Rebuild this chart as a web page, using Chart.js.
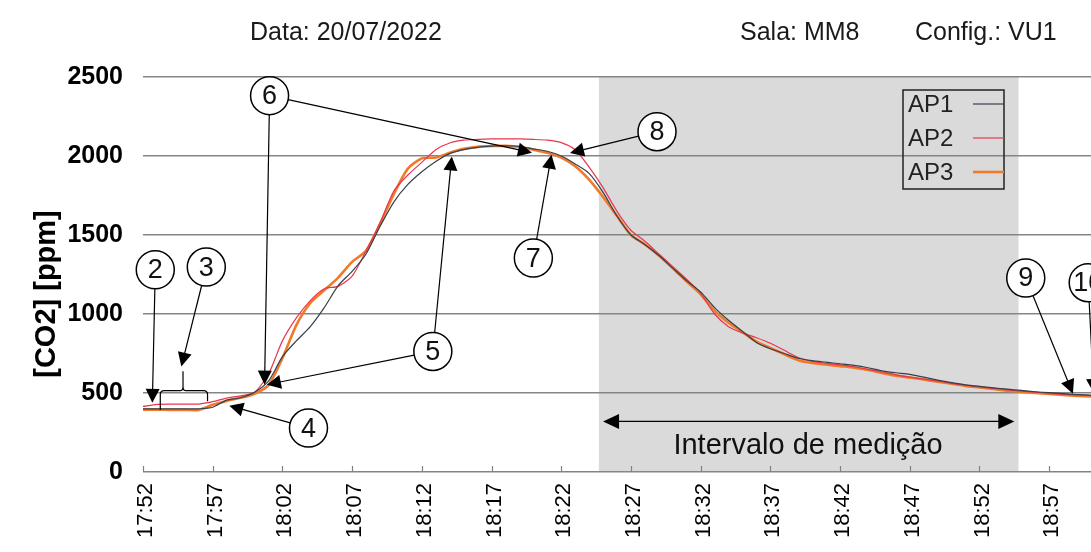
<!DOCTYPE html>
<html><head><meta charset="utf-8">
<script src="https://cdn.jsdelivr.net/npm/chart.js@4.4.0/dist/chart.umd.min.js"></script>
<style>html,body{margin:0;padding:0;background:#fff;overflow:hidden}</style>
</head><body>
<canvas id="c" width="1091" height="552"></canvas>
<script>
const times = ['17:52','17:53','17:54','17:55','17:56','17:57','17:58','17:59',
'18:00','18:01','18:02','18:03','18:04','18:05','18:06','18:07','18:08','18:09',
'18:10','18:11','18:12','18:13','18:14','18:15','18:16','18:17','18:18','18:19',
'18:20','18:21','18:22','18:23','18:24','18:25','18:26','18:27','18:28','18:29',
'18:30','18:31','18:32','18:33','18:34','18:35','18:36','18:37','18:38','18:39',
'18:40','18:41','18:42','18:43','18:44','18:45','18:46','18:47','18:48','18:49',
'18:50','18:51','18:52','18:53','18:54','18:55','18:56','18:57','18:58','18:59','19:00'];
const ap1 = [400,400,400,400,400,410,455,470,505,575,730,830,920,1040,1180,1270,1380,1554,1710,1820,
1900,1965,2015,2040,2055,2062,2065,2060,2045,2030,2000,1950,1890,1770,1620,1500,1440,1370,1290,1210,
1140,1040,960,890,820,780,750,720,705,695,685,675,660,640,628,618,600,582,566,552,
542,533,524,516,508,502,496,490,486];
const ap2 = [415,428,430,430,430,445,468,482,505,620,830,975,1085,1160,1175,1240,1400,1576,1780,1880,
1960,2040,2082,2100,2105,2108,2108,2108,2105,2100,2085,2040,1930,1800,1650,1530,1460,1380,1300,1220,
1130,1000,920,880,850,815,770,725,700,688,678,666,650,633,615,600,588,575,561,549,
539,529,520,512,505,498,492,488,484];
const ap3 = [395,395,393,393,393,425,450,470,495,550,720,930,1070,1150,1230,1330,1400,1570,1760,1920,
1985,1990,2020,2045,2058,2063,2064,2058,2040,2020,1990,1935,1850,1740,1620,1500,1440,1370,1290,1205,
1125,1020,945,885,825,785,745,708,690,680,670,660,645,627,610,598,585,572,558,545,
535,525,515,507,500,494,488,482,478];
const seriesNames = ['AP1','AP2','AP3'];
const seriesColors = ['#34404c','#e8364e','#f07a2a'];
const seriesWidths = [1.2,1.2,2.6];
const yTicks = [0,500,1000,1500,2000,2500];
const headerTexts = ['Data: 20/07/2022','Sala: MM8','Config.: VU1'];
const yTitle = '[CO2] [ppm]';
const intervalLabel = 'Intervalo de medição';
const intervalStart = 32.7, intervalEnd = 62.8; // minutes after 17:52
// numbered markers: centre (minutes, ppm) and arrow targets
const markers = [
 {n:'2', t:0.88, v:1280, to:[[0.67,438]]},
 {n:'3', t:4.54, v:1297, to:[[2.75,668]]},
 {n:'4', t:11.87, v:278, to:[[6.19,420]]},
 {n:'5', t:20.79, v:763, to:[[8.89,553],[22.15,1997]]},
 {n:'6', t:9.08, v:2382, to:[[8.72,553],[27.9,2021]]},
 {n:'7', t:28.0, v:1354, to:[[29.3,2008]]},
 {n:'8', t:36.87, v:2154, to:[[30.63,2019]]},
 {n:'9', t:63.32, v:1228, to:[[66.7,496]]},
 {n:'10', t:67.8, v:1198, to:[[68.2,500]]}
];
const brace = {left:1.24, right:4.63, stub:2.87, top:637, mid:515, leftEnd:394, rightEnd:447};
const intervalArrow = {from:33.0, to:62.5, v:320, textT:47.7, textV:162};

const FONT = "'Liberation Sans', Arial, sans-serif";

function arrowHead(ctx, x1, y1, x2, y2, len, half) {
  const a = Math.atan2(y2 - y1, x2 - x1);
  ctx.beginPath();
  ctx.moveTo(x2, y2);
  ctx.lineTo(x2 - len*Math.cos(a) + half*Math.sin(a), y2 - len*Math.sin(a) - half*Math.cos(a));
  ctx.lineTo(x2 - len*Math.cos(a) - half*Math.sin(a), y2 - len*Math.sin(a) + half*Math.cos(a));
  ctx.closePath();
  ctx.fill();
}
function arrow(ctx, x1, y1, x2, y2) {
  const len = 14, half = 7;
  const a = Math.atan2(y2 - y1, x2 - x1);
  ctx.beginPath();
  ctx.moveTo(x1, y1);
  ctx.lineTo(x2 - (len-2)*Math.cos(a), y2 - (len-2)*Math.sin(a));
  ctx.stroke();
  arrowHead(ctx, x1, y1, x2, y2, len, half);
}

const decor = {
  id: 'decor',
  beforeDraw(chart) {
    const {ctx, chartArea, scales:{x, y}} = chart;
    ctx.save();
    ctx.fillStyle = '#dadada';
    const x1 = x.getPixelForValue(intervalStart), x2 = x.getPixelForValue(intervalEnd);
    ctx.fillRect(x1, chartArea.top, x2 - x1, chartArea.bottom - chartArea.top);
    // header
    ctx.fillStyle = '#1a1a1a';
    ctx.font = '25px ' + FONT;
    ctx.textBaseline = 'middle';
    ctx.fillText(headerTexts[0], 250, 33);
    ctx.fillText(headerTexts[1], 740, 33);
    ctx.fillText(headerTexts[2], 915, 33);
    // y title
    ctx.save();
    ctx.translate(47, 294);
    ctx.rotate(-Math.PI/2);
    ctx.font = 'bold 29px ' + FONT;
    ctx.textAlign = 'center';
    ctx.fillStyle = '#000';
    ctx.fillText(yTitle, 0, 0);
    ctx.restore();
    ctx.restore();
  },
  beforeDatasetsDraw(chart) {
    const {ctx, chartArea, scales:{x}} = chart;
    ctx.save();
    ctx.strokeStyle = '#808080';
    ctx.lineWidth = 1.2;
    x.ticks.forEach(tk => {
      const px = Math.round(x.getPixelForValue(tk.value)) + 0.5;
      ctx.beginPath();
      ctx.moveTo(px, chartArea.bottom);
      ctx.lineTo(px, chartArea.bottom - 6);
      ctx.stroke();
    });
    ctx.restore();
  },
  afterDatasetsDraw(chart) {
    const {ctx, scales:{x, y}} = chart;
    ctx.save();
    ctx.strokeStyle = '#000';
    ctx.fillStyle = '#000';
    ctx.lineWidth = 1.2;
    // brace
    const bl = x.getPixelForValue(brace.left), br = x.getPixelForValue(brace.right);
    const bs = x.getPixelForValue(brace.stub), bm = y.getPixelForValue(brace.mid);
    ctx.beginPath();
    ctx.moveTo(bl, y.getPixelForValue(brace.leftEnd));
    ctx.lineTo(bl, bm + 4);
    ctx.quadraticCurveTo(bl, bm, bl + 4, bm);
    ctx.lineTo(bs - 3, bm);
    ctx.quadraticCurveTo(bs, bm, bs, bm - 4);
    ctx.lineTo(bs, y.getPixelForValue(brace.top));
    ctx.moveTo(bs, bm - 4);
    ctx.quadraticCurveTo(bs, bm, bs + 3, bm);
    ctx.lineTo(br - 4, bm);
    ctx.quadraticCurveTo(br, bm, br, bm + 4);
    ctx.lineTo(br, y.getPixelForValue(brace.rightEnd));
    ctx.stroke();
    // interval arrow
    const ia1 = x.getPixelForValue(intervalArrow.from), ia2 = x.getPixelForValue(intervalArrow.to);
    const iy = y.getPixelForValue(intervalArrow.v);
    ctx.beginPath(); ctx.moveTo(ia1 + 12, iy); ctx.lineTo(ia2 - 12, iy); ctx.stroke();
    arrowHead(ctx, ia2, iy, ia1, iy, 16, 7.5);
    arrowHead(ctx, ia1, iy, ia2, iy, 16, 7.5);
    ctx.font = '29px ' + FONT;
    ctx.textAlign = 'center';
    ctx.textBaseline = 'middle';
    ctx.fillStyle = '#111';
    ctx.fillText(intervalLabel, x.getPixelForValue(intervalArrow.textT), y.getPixelForValue(intervalArrow.textV));
    // markers
    const R = 19;
    markers.forEach(m => {
      const cx = x.getPixelForValue(m.t), cy = y.getPixelForValue(m.v);
      ctx.fillStyle = '#000';
      m.to.forEach(([tt, tv]) => {
        const tx = x.getPixelForValue(tt), ty = y.getPixelForValue(tv);
        const a = Math.atan2(ty - cy, tx - cx);
        arrow(ctx, cx + R*Math.cos(a), cy + R*Math.sin(a), tx, ty);
      });
    });
    markers.forEach(m => {
      const cx = x.getPixelForValue(m.t), cy = y.getPixelForValue(m.v);
      ctx.beginPath();
      ctx.arc(cx, cy, R, 0, Math.PI*2);
      ctx.fillStyle = '#fff';
      ctx.fill();
      ctx.lineWidth = 1.5;
      ctx.stroke();
      ctx.lineWidth = 1.2;
      ctx.fillStyle = '#111';
      ctx.font = '27px ' + FONT;
      ctx.textAlign = 'center';
      ctx.textBaseline = 'middle';
      ctx.fillText(m.n, cx, cy + 1);
    });
    // legend
    const lx = 903, ly = 90, lw = 101, lh = 99;
    ctx.lineWidth = 1.5;
    ctx.strokeStyle = '#222';
    ctx.strokeRect(lx, ly, lw, lh);
    ctx.font = '24px ' + FONT;
    ctx.textAlign = 'left';
    ctx.textBaseline = 'middle';
    seriesNames.forEach((nm, i) => {
      const yy = ly + 14 + i * 34;
      ctx.fillStyle = '#222';
      ctx.fillText(nm, lx + 5, yy + 1);
      ctx.strokeStyle = seriesColors[i];
      ctx.lineWidth = seriesWidths[i];
      ctx.beginPath(); ctx.moveTo(lx + 70, yy); ctx.lineTo(lx + lw, yy); ctx.stroke();
    });
    ctx.restore();
  }
};

const series = [ap1, ap2, ap3];
new Chart(document.getElementById('c'), {
  type: 'line',
  data: {
    datasets: series.map((s, i) => ({
      label: seriesNames[i],
      data: s.map((v, k) => ({x: k, y: v})),
      borderColor: seriesColors[i],
      borderWidth: seriesWidths[i],
      pointRadius: 0,
      tension: 0.25,
      fill: false
    }))
  },
  options: {
    responsive: false,
    animation: false,
    devicePixelRatio: 1,
    layout: {padding: {top: 77, right: 0, bottom: 0, left: 0}},
    plugins: {legend: {display: false}, tooltip: {enabled: false}, title: {display: false}},
    scales: {
      x: {
        type: 'linear', min: 0, max: times.length - 1,
        afterFit: s => { s.height = 80; },
        grid: {display: false, drawTicks: false},
        border: {display: false},
        ticks: {
          stepSize: 5, includeBounds: false, autoSkip: false,
          maxRotation: 90, minRotation: 90, padding: 11, labelOffset: 3,
          color: '#000', font: {family: FONT, size: 22},
          callback: v => times[v]
        }
      },
      y: {
        min: 0, max: yTicks[yTicks.length - 1],
        afterFit: s => { s.width = 143; },
        afterBuildTicks: s => { s.ticks = yTicks.map(v => ({value: v})); },
        grid: {color: '#858585', lineWidth: 1.5, drawTicks: false},
        border: {display: false},
        ticks: {padding: 20, color: '#000', font: {family: FONT, size: 25, weight: 'bold'},
          callback: v => String(v)}
      }
    }
  },
  plugins: [decor]
});
</script>
</body></html>
